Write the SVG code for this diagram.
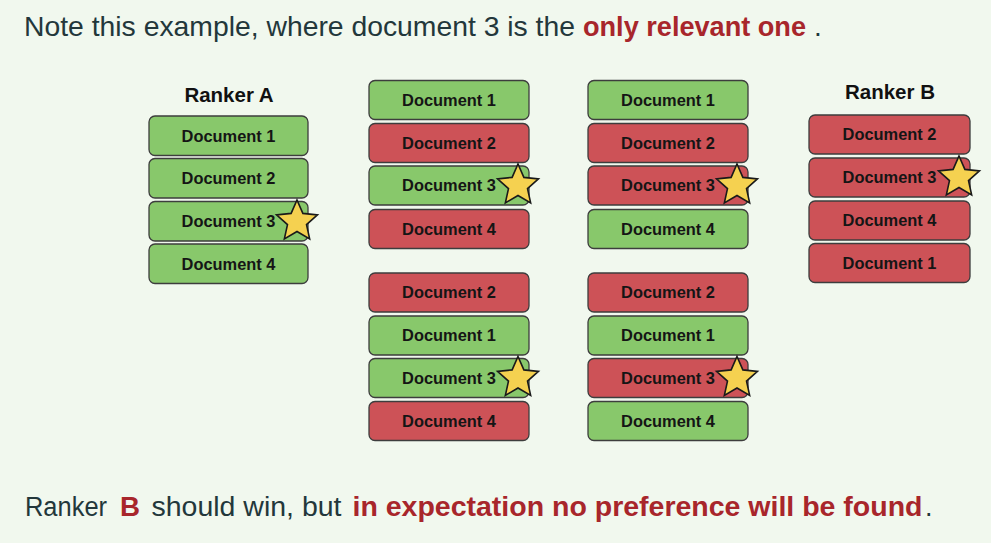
<svg xmlns="http://www.w3.org/2000/svg" xmlns:xlink="http://www.w3.org/1999/xlink" width="991" height="543" viewBox="0 0 991 543">
<defs>
<style>
.bg{fill:#f1f8ee}
.g{fill:#88c86b;stroke:#3d3d3d;stroke-width:1.3}
.r{fill:#cd5257;stroke:#3d3d3d;stroke-width:1.3}
.dt{font-family:"Liberation Sans",Arial,sans-serif;font-weight:bold;font-size:16.4px;fill:#151515;text-anchor:middle}
.rk{font-family:"Liberation Sans",Arial,sans-serif;font-weight:bold;font-size:20.5px;fill:#111;text-anchor:middle}
.tx{font-family:"Liberation Sans",Arial,sans-serif;fill:#23373b}
.al{font-family:"Liberation Sans",Arial,sans-serif;font-weight:bold;fill:#a8262b}
.star{fill:#f5d150;stroke:#1a1a1a;stroke-width:1.6;stroke-linejoin:miter}
</style>
<polygon id="star" class="star" points="0,-21.5 5.88,-8.09 20.45,-6.64 9.51,3.09 12.64,17.39 0,10 -12.64,17.39 -9.51,3.09 -20.45,-6.64 -5.88,-8.09"/>
</defs>
<rect class="bg" x="0" y="0" width="991" height="543"/>

<g id="title">
<text class="tx" x="24" y="36" font-size="28" textLength="551" lengthAdjust="spacingAndGlyphs">Note this example, where document 3 is the</text>
<text class="al" x="583" y="36" font-size="28" textLength="223" lengthAdjust="spacingAndGlyphs">only relevant one</text>
<text class="tx" x="814" y="36" font-size="28">.</text>
</g>

<g id="rankerA">
<text class="rk" x="229" y="102">Ranker A</text>
<g id="a1"><rect class="g" x="149" y="116" width="159" height="39.5" rx="6"/><text class="dt" x="228.5" y="141.5">Document 1</text></g>
<g id="a2"><rect class="g" x="149" y="158.5" width="159" height="39.5" rx="6"/><text class="dt" x="228.5" y="184">Document 2</text></g>
<g id="a3"><rect class="g" x="149" y="201.5" width="159" height="39.5" rx="6"/><text class="dt" x="228.5" y="227">Document 3</text><use xlink:href="#star" x="297" y="221.5"/></g>
<g id="a4"><rect class="g" x="149" y="244" width="159" height="39.5" rx="6"/><text class="dt" x="228.5" y="269.5">Document 4</text></g>
</g>

<g id="mix1">
<g id="m1a"><rect class="g" x="369" y="80.5" width="160" height="39" rx="6"/><text class="dt" x="449" y="105.5">Document 1</text></g>
<g id="m1b"><rect class="r" x="369" y="123.5" width="160" height="39" rx="6"/><text class="dt" x="449" y="148.5">Document 2</text></g>
<g id="m1c"><rect class="g" x="369" y="166" width="160" height="39" rx="6"/><text class="dt" x="449" y="191">Document 3</text><use xlink:href="#star" x="518" y="185.5"/></g>
<g id="m1d"><rect class="r" x="369" y="209.5" width="160" height="39" rx="6"/><text class="dt" x="449" y="234.5">Document 4</text></g>
</g>

<g id="mix2">
<g id="m2a"><rect class="r" x="369" y="273" width="160" height="39" rx="6"/><text class="dt" x="449" y="298">Document 2</text></g>
<g id="m2b"><rect class="g" x="369" y="316" width="160" height="39" rx="6"/><text class="dt" x="449" y="341">Document 1</text></g>
<g id="m2c"><rect class="g" x="369" y="358.5" width="160" height="39" rx="6"/><text class="dt" x="449" y="383.5">Document 3</text><use xlink:href="#star" x="518" y="378"/></g>
<g id="m2d"><rect class="r" x="369" y="401.5" width="160" height="39" rx="6"/><text class="dt" x="449" y="426.5">Document 4</text></g>
</g>

<g id="mix3">
<g id="m3a"><rect class="g" x="588" y="80.5" width="160" height="39" rx="6"/><text class="dt" x="668" y="105.5">Document 1</text></g>
<g id="m3b"><rect class="r" x="588" y="123.5" width="160" height="39" rx="6"/><text class="dt" x="668" y="148.5">Document 2</text></g>
<g id="m3c"><rect class="r" x="588" y="166" width="160" height="39" rx="6"/><text class="dt" x="668" y="191">Document 3</text><use xlink:href="#star" x="737" y="185.5"/></g>
<g id="m3d"><rect class="g" x="588" y="209.5" width="160" height="39" rx="6"/><text class="dt" x="668" y="234.5">Document 4</text></g>
</g>

<g id="mix4">
<g id="m4a"><rect class="r" x="588" y="273" width="160" height="39" rx="6"/><text class="dt" x="668" y="298">Document 2</text></g>
<g id="m4b"><rect class="g" x="588" y="316" width="160" height="39" rx="6"/><text class="dt" x="668" y="341">Document 1</text></g>
<g id="m4c"><rect class="r" x="588" y="358.5" width="160" height="39" rx="6"/><text class="dt" x="668" y="383.5">Document 3</text><use xlink:href="#star" x="737" y="378"/></g>
<g id="m4d"><rect class="g" x="588" y="401.5" width="160" height="39" rx="6"/><text class="dt" x="668" y="426.5">Document 4</text></g>
</g>

<g id="rankerB">
<text class="rk" x="890" y="99">Ranker B</text>
<g id="b1"><rect class="r" x="809" y="115" width="161" height="39" rx="6"/><text class="dt" x="889.5" y="140">Document 2</text></g>
<g id="b2"><rect class="r" x="809" y="158" width="161" height="39" rx="6"/><text class="dt" x="889.5" y="183">Document 3</text><use xlink:href="#star" x="959" y="177.5"/></g>
<g id="b3"><rect class="r" x="809" y="201" width="161" height="39" rx="6"/><text class="dt" x="889.5" y="226">Document 4</text></g>
<g id="b4"><rect class="r" x="809" y="243.5" width="161" height="39" rx="6"/><text class="dt" x="889.5" y="268.5">Document 1</text></g>
</g>

<g id="connectors"></g>

<g id="footer">
<text class="tx" x="25" y="516" font-size="27" textLength="82" lengthAdjust="spacingAndGlyphs">Ranker</text>
<text class="al" x="120" y="516" font-size="27" textLength="20" lengthAdjust="spacingAndGlyphs">B</text>
<text class="tx" x="151.5" y="516" font-size="27" textLength="190" lengthAdjust="spacingAndGlyphs">should win, but</text>
<text class="al" x="352.5" y="516" font-size="27" textLength="570" lengthAdjust="spacingAndGlyphs">in expectation no preference will be found</text>
<text class="tx" x="925" y="516" font-size="27">.</text>
</g>
</svg>
